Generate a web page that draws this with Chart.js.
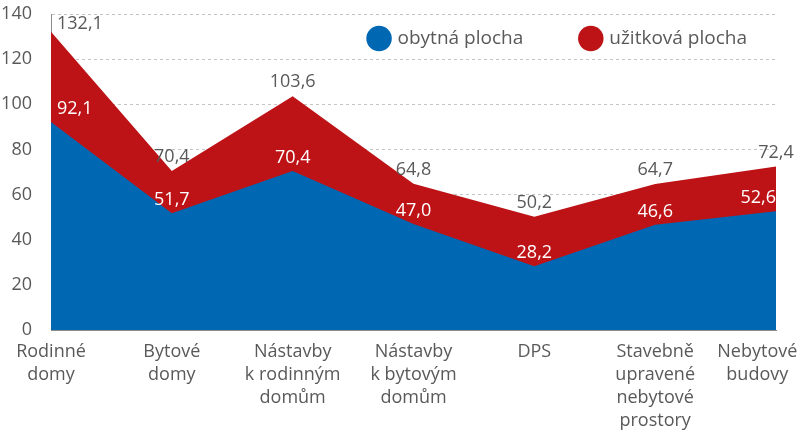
<!DOCTYPE html>
<html><head><meta charset="utf-8">
<script src="https://cdn.jsdelivr.net/npm/chart.js@4"></script>
<style>html,body{margin:0;padding:0;background:#fff}#wrap{width:800px;height:432px}</style>
</head><body><div id="wrap"><canvas id="c" width="800" height="432"></canvas></div>
<script>
const categories = [['Rodinné','domy'],['Bytové','domy'],['Nástavby','k rodinným','domům'],['Nástavby','k bytovým','domům'],['DPS'],['Stavebně','upravené','nebytové','prostory'],['Nebytové','budovy']];
const obytnaPlocha = [92.1, 51.7, 70.4, 47.0, 28.2, 46.6, 52.6];
const uzitkovaPlocha = [132.1, 70.4, 103.6, 64.8, 50.2, 64.7, 72.4];
const seriesNames = ['obytná plocha', 'užitková plocha'];
const yTicks = [0, 20, 40, 60, 80, 100, 120, 140];

const FONT = '"Open Sans", "Noto Sans", sans-serif';
const TEXT = '#595959';
const BLUE = '#0067b2';
const RED = '#bd1317';

const valueLabels = {
  id: 'valueLabels',
  afterDatasetsDraw(chart) {
    const ctx = chart.ctx;
    const top = chart.chartArea.top;
    ctx.save();
    ctx.font = '18px ' + FONT;
    ctx.textBaseline = 'middle';
    chart.data.datasets.forEach((ds, di) => {
      const meta = chart.getDatasetMeta(di);
      const last = ds.data.length - 1;
      meta.data.forEach((pt, i) => {
        let x = pt.x, align = 'center';
        if (i === 0) { x += 6; align = 'left'; }
        else if (i === last && di === 0) { align = 'right'; }
        ctx.textAlign = align;
        ctx.fillStyle = di === 0 ? '#ffffff' : TEXT;
        const y = Math.max(pt.y - (di === 0 ? 13 : 14), top + 10);
        ctx.fillText(ds.data[i].toFixed(1).replace('.', ','), x, y);
      });
    });
    ctx.restore();
  }
};

// let the legend (which only reserves 14px above the plot) draw over the plot's top
const legendInPlot = {
  id: 'legendInPlot',
  afterLayout(chart) {
    const lg = chart.legend;
    if (lg) { lg.bottom = lg.top + 70; lg.height = 70; }
  }
};

new Chart(document.getElementById('c'), {
  type: 'line',
  data: {
    labels: categories,
    datasets: [
      { label: seriesNames[0], data: obytnaPlocha, backgroundColor: BLUE, borderColor: BLUE, borderWidth: 0, fill: 'origin', pointRadius: 0, tension: 0 },
      { label: seriesNames[1], data: uzitkovaPlocha, backgroundColor: RED, borderColor: RED, borderWidth: 0, fill: 'origin', pointRadius: 0, tension: 0 }
    ]
  },
  options: {
    responsive: false,
    animation: false,
    devicePixelRatio: 1,
    layout: { padding: { left: 1, right: 24, top: 0, bottom: 0 } },
    plugins: {
      tooltip: { enabled: false },
      legend: {
        position: 'top',
        align: 'end',
        maxHeight: 14,
        labels: {
          usePointStyle: true,
          pointStyle: 'circle',
          boxWidth: 18,
          boxHeight: 18,
          padding: 29,
          color: TEXT,
          font: { family: FONT, size: 19 },
          generateLabels(chart) {
            const items = Chart.defaults.plugins.legend.labels.generateLabels(chart);
            items.forEach((it, i) => { if (i < items.length - 1) it.text += '\u00a0'.repeat(6); });
            return items;
          }
        }
      }
    },
    scales: {
      x: {
        offset: false,
        grid: { display: false, drawTicks: false },
        border: { display: true, color: '#8c8c8c', width: 1 },
        ticks: {
          padding: 10,
          color: TEXT,
          autoSkip: false,
          maxRotation: 0,
          font: { family: FONT, size: 18, lineHeight: 1.28 },
          callback: function (v, i, arr) {
            const lab = categories[i];
            if (i === arr.length - 1) return lab.map(s => s + '\u00a0'.repeat(8));
            return lab;
          }
        },
        afterFit: function (s) { s.paddingRight = 0; s.paddingLeft = 0; s.height = 102; }
      },
      y: {
        min: 0, max: 140,
        grid: {
          drawTicks: false,
          color: ctx => ctx.tick && ctx.tick.value === 0 ? 'rgba(0,0,0,0)' : '#c4c4c4',
          lineWidth: 1
        },
        border: { display: true, color: '#8c8c8c', width: 1, dash: [3, 3] },
        ticks: { padding: 19, color: TEXT, font: { family: FONT, size: 18 }, stepSize: 20 },
        afterBuildTicks: s => { s.ticks = yTicks.map(v => ({ value: v })); },
        afterFit: function (s) { s.width = 50; s.paddingTop = 0; s.paddingBottom = 0; }
      }
    }
  },
  plugins: [valueLabels, legendInPlot]
});
</script></body></html>
